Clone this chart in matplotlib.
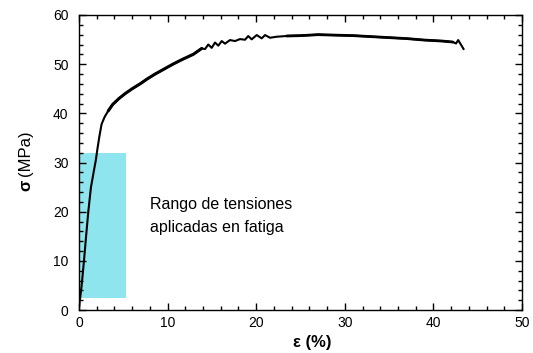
import matplotlib
matplotlib.use("Agg")
import matplotlib.pyplot as plt
from matplotlib.ticker import MultipleLocator
from matplotlib.patches import Rectangle

plt.rcParams['font.family'] = ['Liberation Sans', 'DejaVu Sans']

# Stress-strain curve
strain = [0.0, 0.3, 0.56, 0.8, 1.05, 1.35, 1.7, 1.9, 2.1, 2.3, 2.55, 2.9, 3.3,
          3.8, 4.5, 5.2, 6.0, 6.9, 7.7, 8.6, 9.6, 10.6, 11.7, 12.9, 13.85,
          14.22, 14.59, 14.98, 15.35, 15.72, 16.11, 16.48, 17.04, 17.61, 18.17,
          18.74, 19.1, 19.49, 20.06, 20.62, 21.0, 21.56, 22.3, 23.44, 24.94,
          27.0, 29.0, 31.0, 33.0, 35.0, 37.0, 39.0, 41.0, 42.2, 42.55, 42.8, 43.4]
stress = [0.5, 5.0, 10.0, 15.0, 20.0, 25.0, 28.5, 30.5, 33.0, 35.3, 37.8, 39.3, 40.5,
          41.8, 43.0, 44.0, 45.0, 46.0, 47.0, 48.0, 49.0, 50.0, 51.0, 52.0, 53.2,
          53.06, 54.0, 53.32, 54.4, 53.76, 54.7, 54.17, 54.9, 54.7, 55.1,
          54.97, 55.72, 55.05, 55.92, 55.25, 55.92, 55.37, 55.58, 55.73, 55.8,
          56.0, 55.9, 55.8, 55.6, 55.4, 55.2, 54.9, 54.7, 54.5, 54.2, 54.9, 53.1]

# Range of stresses applied in fatigue (shaded box)
box_strain = [0.0, 5.35]
box_stress = [2.5, 32.0]

x_limits = [0, 50]
y_limits = [0, 60]
annot_lines = ["Rango de tensiones", "aplicadas en fatiga"]

fig = plt.figure(figsize=(5.33, 3.53), dpi=100)
ax = fig.add_axes([79/533, 43/353, (522-79)/533, (310-15)/353])

ax.add_patch(Rectangle((box_strain[0], box_stress[0]),
                       box_strain[1]-box_strain[0], box_stress[1]-box_stress[0],
                       facecolor='#8EE5EE', edgecolor='none', zorder=1))
ax.plot(strain, stress, color='black', lw=1.5, zorder=3, solid_joinstyle='round')
# noisy (thicker-looking) plastic band of the record
ax.plot(strain[12:25], stress[12:25], color='black', lw=2.2, zorder=3,
        solid_capstyle='round')
ax.plot(strain[43:54], stress[43:54], color='black', lw=2.0, zorder=3,
        solid_capstyle='round')

ax.set_xlim(x_limits)
ax.set_ylim(y_limits)
ax.xaxis.set_major_locator(MultipleLocator(10))
ax.xaxis.set_minor_locator(MultipleLocator(2))
ax.yaxis.set_major_locator(MultipleLocator(10))
ax.yaxis.set_minor_locator(MultipleLocator(2))
ax.tick_params(which='both', direction='in', top=True, right=True, width=1,
               labelsize=10, colors='black')
ax.tick_params(which='major', length=5)
ax.tick_params(which='minor', length=3)
ax.tick_params(axis='x', pad=4)
ax.tick_params(axis='y', pad=7.5)
for s in ax.spines.values():
    s.set_linewidth(1.0)

ax.text(8.0, 20.48, annot_lines[0], fontsize=11.5, va='baseline', ha='left')
ax.text(8.0, 15.92, annot_lines[1], fontsize=11.5, va='baseline', ha='left')

fig.text(312/533, (353-343)/353, "ε (%)", fontsize=12, fontweight='bold',
         ha='center', va='center')
fig.text(26/533, (353-185)/353, "σ", fontsize=12, fontweight='bold',
         rotation=90, ha='center', va='center')
fig.text(26/533, (353-153)/353, "(MPa)", fontsize=12,
         rotation=90, ha='center', va='center')

fig.savefig("out.png", dpi=100)
